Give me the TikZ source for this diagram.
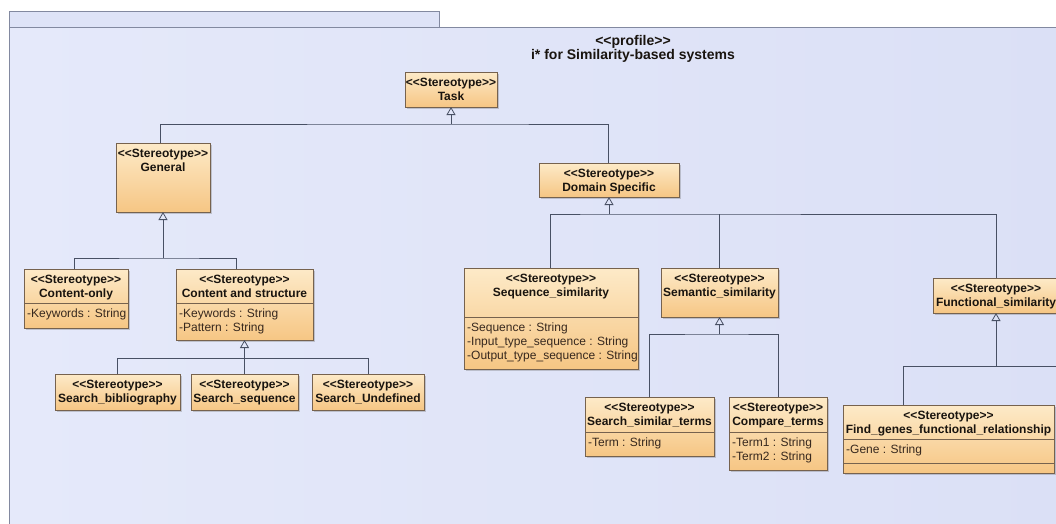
\documentclass[tikz,border=0pt]{standalone}
\usepackage{fontspec}
\setmainfont{Liberation Sans}[Ligatures=TeXOff]
\usetikzlibrary{arrows.meta,calc,shadows}

\definecolor{canvasL}{RGB}{229,233,250}
\definecolor{canvasR}{RGB}{219,224,246}
\definecolor{tabfill}{RGB}{222,227,247}
\definecolor{frameedge}{RGB}{130,137,160}
\definecolor{boxtop}{RGB}{253,234,200}
\definecolor{boxbot}{RGB}{246,198,132}
\definecolor{boxedge}{RGB}{118,98,78}
\definecolor{connector}{RGB}{72,80,100}
\definecolor{ink}{RGB}{25,20,15}
\definecolor{attrink}{RGB}{55,40,30}

% one stereotyped class: name, left, top, right, bottom, class name
\newcommand\umlclass[6]{%
  \node[umlbox, minimum width={#4pt-#2pt}, minimum height={#5pt-#3pt}] (#1) at (#2,#3) {};
  \node[stereo] (#1-st) at ($(#1.north)+(0,14)$) {<<Stereotype>>};
  \node[stereo] (#1-nm) at ($(#1.north)+(0,28)$) {#6};
}
% compartment separator, offset from the top of the class
\newcommand\umlsep[2]{%
  \draw[boxline] ($(#1.north west)+(0,#2)$) -- ($(#1.north east)+(0,#2)$);
}
% attribute line, baseline offset from the top of the class
\newcommand\umlattr[3]{%
  \node[attr] at ($(#1.north west)+(3,#2)$) {#3};
}

\begin{document}
\begin{tikzpicture}[x=1pt,y=-1pt,
  umlbox/.style={draw=boxedge, line width=0.8pt, top color=boxtop, bottom color=boxbot,
    inner sep=0pt, outer sep=0pt, anchor=north west,
    drop shadow={shadow xshift=2pt, shadow yshift=-2pt, opacity=.3, fill=black!60}},
  boxline/.style={draw=boxedge, line width=0.7pt},
  stereo/.style={anchor=base, inner sep=0pt, text=ink, font=\bfseries\fontsize{12}{14}\selectfont},
  attr/.style={anchor=base west, inner sep=0pt, text=attrink, font=\fontsize{12}{14}\selectfont},
  titletext/.style={anchor=base, inner sep=0pt, text=ink, font=\bfseries\fontsize{14}{16}\selectfont},
  conn/.style={draw=connector, line width=0.8pt},
  inh/.style={conn, -{Triangle[open, width=9pt, length=8pt]}},
]
\useasboundingbox (0,0) rectangle (1056,523);
\clip (0,0) rectangle (1056,523);

% page and profile frame
\fill[white] (0,0) rectangle (1056,523);
\shade[left color=canvasL, right color=canvasR] (9,27) rectangle (1070,540);
\draw[frameedge, line width=1pt] (9,540) -- (9,27) -- (1070,27);
\draw[frameedge, line width=1pt, fill=tabfill] (9,27) -- (9,11) -- (439,11) -- (439,27);

% profile title
\node[titletext] (prof) at (633,45) {<<profile>>};
\node[titletext] (pname) at (633,59) {i* for Similarity-based systems};

% stereotypes
\umlclass{task}{405}{72}{497}{107}{Task}
\umlclass{general}{116}{143}{210}{212}{General}
\umlclass{domain}{539}{163}{679}{197}{Domain Specific}

\umlclass{contonly}{24}{269}{128}{328}{Content-only}
\umlsep{contonly}{34}
\umlattr{contonly}{48}{-Keywords : String}

\umlclass{contstruct}{176}{269}{313}{340}{Content and structure}
\umlsep{contstruct}{34}
\umlattr{contstruct}{48}{-Keywords : String}
\umlattr{contstruct}{62}{-Pattern : String}

\umlclass{sbib}{55}{374}{180}{410}{Search\_bibliography}
\umlclass{sseq}{191}{374}{298}{410}{Search\_sequence}
\umlclass{sund}{312}{374}{424}{410}{Search\_Undefined}

\umlclass{seqsim}{464}{268}{638}{369}{Sequence\_similarity}
\umlsep{seqsim}{49}
\umlattr{seqsim}{63}{-Sequence : String}
\umlattr{seqsim}{77}{-Input\_type\_sequence : String}
\umlattr{seqsim}{91}{-Output\_type\_sequence : String}

\umlclass{semsim}{661}{268}{778}{317}{Semantic\_similarity}

\umlclass{sterms}{585}{397}{714}{456}{Search\_similar\_terms}
\umlsep{sterms}{35}
\umlattr{sterms}{49}{-Term : String}

\umlclass{cterms}{729}{397}{827}{470}{Compare\_terms}
\umlsep{cterms}{35}
\umlattr{cterms}{49}{-Term1 : String}
\umlattr{cterms}{63}{-Term2 : String}

\umlclass{funcsim}{933}{278}{1059}{313}{Functional\_similarity}

\umlclass{fgenes}{843}{405}{1054}{473}{Find\_genes\_functional\_relationship}
\umlsep{fgenes}{34}
\umlsep{fgenes}{58}
\umlattr{fgenes}{48}{-Gene : String}

% generalizations
\coordinate (jt) at ($(task.south)+(0,17)$);
\draw[conn] ($(general.north)+(-3,0)$) |- (jt) -| ($(domain.north)+(-1,0)$);
\draw[inh] (jt) -- (task.south);

\coordinate (jg) at ($(general.south)+(0,46)$);
\draw[conn] ($(contonly.north)+(-2,0)$) |- (jg) -| ($(contstruct.north)+(-8,0)$);
\draw[inh] (jg) -- (general.south);

\coordinate (jc) at ($(contstruct.south)+(0,18)$);
\draw[conn] (sbib.north) |- (jc) -| (sund.north);
\draw[conn] (sseq.north) -- (jc);
\draw[inh] (jc) -- (contstruct.south);

\coordinate (jd) at ($(domain.south)+(0,17)$);
\draw[conn] ($(seqsim.north)+(-1,0)$) |- (jd) -| (funcsim.north);
\draw[conn] (semsim.north) -- (semsim.north |- jd);
\draw[inh] (jd) -- (domain.south);

\coordinate (js) at ($(semsim.south)+(0,17)$);
\draw[conn] (sterms.north) |- (js) -| (cterms.north);
\draw[inh] (js) -- (semsim.south);

\coordinate (jf) at ($(funcsim.south)+(0,53)$);
\coordinate (jfr) at (1070,366);
\draw[conn] ($(fgenes.north west)+(60,0)$) |- (jfr);
\draw[inh] (jf) -- (funcsim.south);
\end{tikzpicture}
\end{document}
